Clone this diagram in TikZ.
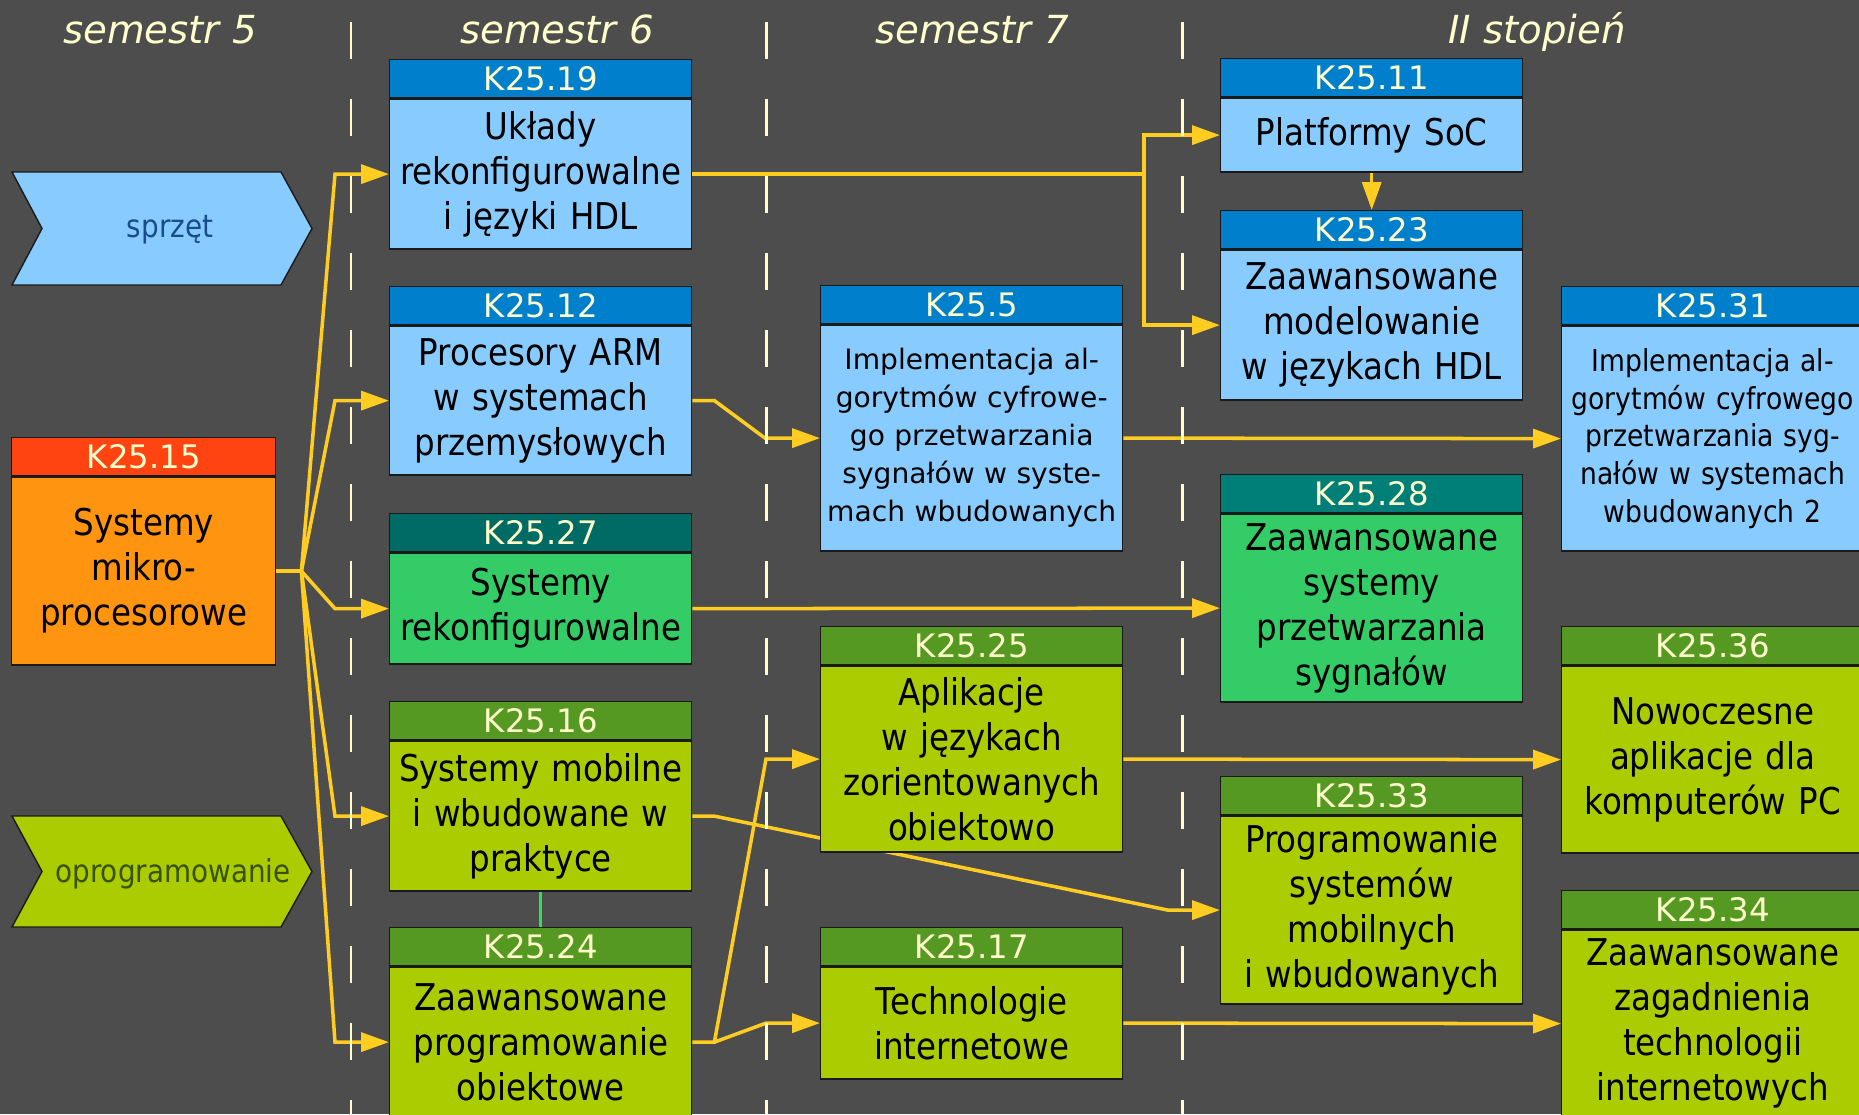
\documentclass[tikz,border=0pt]{standalone}
\usepackage{fontspec}
\setmainfont{DejaVu Sans}[FakeStretch=0.88]
\newfontfamily\widefont{DejaVu Sans}
\usetikzlibrary{positioning,arrows.meta,backgrounds}
\definecolor{bgcol}{HTML}{4D4D4D}
\definecolor{linkcol}{HTML}{FFCC22}
\definecolor{dashcol}{HTML}{FFFFCC}
\definecolor{hdrtext}{HTML}{FFFFCC}
\definecolor{edgecol}{HTML}{1A1A1A}
\definecolor{blueh}{HTML}{0080CC}
\definecolor{blueb}{HTML}{88CCFF}
\definecolor{tealh}{HTML}{007F78}
\definecolor{tealdark}{HTML}{006B64}
\definecolor{tealb}{HTML}{33CC66}
\definecolor{greenh}{HTML}{559922}
\definecolor{greenb}{HTML}{AACC00}
\definecolor{orangeh}{HTML}{FF4411}
\definecolor{orangeb}{HTML}{FF9411}
\definecolor{pairline}{HTML}{33DD55}
\definecolor{hwtext}{HTML}{1A4C8C}
\definecolor{swtext}{HTML}{3A5200}
\begin{document}
\begin{tikzpicture}[every node/.style={inner sep=0pt},
    head node/.style={draw=edgecol, fill=#1, text=hdrtext, anchor=north west, minimum width=3.02cm, minimum height=0.38cm, font=\widefont\fontsize{9.2}{10}\selectfont},
    body node/.style={draw=edgecol, fill=#1, text=black, align=center, text width=2.9cm, inner xsep=0.06cm, font=\fontsize{10.5}{12.8}\selectfont},
    narrow text/.style={font=\widefont\fontsize{8}{10.8}\selectfont},
    dense text/.style={font=\fontsize{8.6}{10.8}\selectfont},
    link/.style={linkcol, line width=1pt, -{Triangle[length=2.8mm,width=1.9mm]}},
    semester/.style={text=hdrtext, anchor=base, font=\widefont\itshape\fontsize{11}{13}\selectfont},
    area/.style={draw=edgecol, line width=0.4pt, fill=#1},
    area text/.style={text=#1, font=\fontsize{9}{11}\selectfont}]

    \useasboundingbox (0,0) rectangle (18.59,-11.14);

    % kolumny
    \node[semester] (t5) at (1.60,-0.43) {semestr 5};
    \node[semester] (t6) at (5.57,-0.43) {semestr 6};
    \node[semester] (t7) at (9.72,-0.43) {semestr 7};
    \node[semester] (t2) at (15.37,-0.43) {II stopień};

    % obszary
    \draw[area=blueb] (0.12,-1.72) -- (2.81,-1.72) -- (3.12,-2.285) -- (2.81,-2.85) -- (0.12,-2.85) -- (0.42,-2.285) -- cycle;
    \node[area text=hwtext] (hw) at (1.70,-2.30) {sprzęt};
    \draw[area=greenb] (0.12,-8.16) -- (2.81,-8.16) -- (3.12,-8.715) -- (2.81,-9.27) -- (0.12,-9.27) -- (0.42,-8.715) -- cycle;
    \node[area text=swtext] (sw) at (1.73,-8.74) {oprogramowanie};

    % semestr 5
    \node[head node=orangeh, minimum width=2.64cm] (k15h) at (0.11,-4.37) {K25.15};
    \node[body node=orangeb, text width=2.52cm, below=0pt of k15h, minimum height=1.88cm] (k15) {Systemy\\mikro-\\procesorowe};

    % semestr 6
    \node[head node=blueh] (k19h) at (3.89,-0.59) {K25.19};
    \node[body node=blueb, below=0pt of k19h, minimum height=1.50cm] (k19) {Układy\\rekonfigurowalne\\i języki HDL};
    \node[head node=blueh] (k12h) at (3.89,-2.86) {K25.12};
    \node[body node=blueb, below=0pt of k12h, minimum height=1.49cm] (k12) {Procesory ARM\\w systemach\\przemysłowych};
    \node[head node=tealdark] (k27h) at (3.89,-5.13) {K25.27};
    \node[body node=tealb, below=0pt of k27h, minimum height=1.11cm] (k27) {Systemy\\rekonfigurowalne};
    \node[head node=greenh] (k16h) at (3.89,-7.01) {K25.16};
    \node[body node=greenb, below=0pt of k16h, minimum height=1.50cm] (k16) {Systemy mobilne\\i wbudowane w\\praktyce};
    \node[head node=greenh] (k24h) at (3.89,-9.27) {K25.24};
    \node[body node=greenb, below=0pt of k24h, minimum height=1.50cm] (k24) {Zaawansowane\\programowanie\\obiektowe};

    % semestr 7
    \node[head node=blueh] (k5h) at (8.20,-2.85) {K25.5};
    \node[body node=blueb, narrow text, below=0pt of k5h, minimum height=2.26cm] (k5) {Implementacja al-\\gorytmów cyfrowe-\\go przetwarzania\\sygnałów w syste-\\mach wbudowanych};
    \node[head node=greenh] (k25h) at (8.20,-6.26) {K25.25};
    \node[body node=greenb, below=0pt of k25h, minimum height=1.86cm] (k25) {Aplikacje\\w językach\\zorientowanych\\obiektowo};
    \node[head node=greenh] (k17h) at (8.20,-9.27) {K25.17};
    \node[body node=greenb, below=0pt of k17h, minimum height=1.12cm] (k17) {Technologie\\internetowe};

    % II stopien
    \node[head node=blueh] (k11h) at (12.20,-0.58) {K25.11};
    \node[body node=blueb, below=0pt of k11h, minimum height=0.74cm] (k11) {Platformy SoC};
    \node[head node=blueh] (k23h) at (12.20,-2.10) {K25.23};
    \node[body node=blueb, below=0pt of k23h, minimum height=1.50cm] (k23) {Zaawansowane\\modelowanie\\w językach HDL};
    \node[head node=tealh] (k28h) at (12.20,-4.74) {K25.28};
    \node[body node=tealb, below=0pt of k28h, minimum height=1.88cm] (k28) {Zaawansowane\\systemy\\przetwarzania\\sygnałów};
    \node[head node=greenh] (k33h) at (12.20,-7.76) {K25.33};
    \node[body node=greenb, below=0pt of k33h, minimum height=1.88cm] (k33) {Programowanie\\systemów\\mobilnych\\i wbudowanych};
    \node[head node=blueh] (k31h) at (15.61,-2.86) {K25.31};
    \node[body node=blueb, dense text, below=0pt of k31h, minimum height=2.25cm] (k31) {Implementacja al-\\gorytmów cyfrowego\\przetwarzania syg-\\nałów w systemach\\wbudowanych 2};
    \node[head node=greenh] (k36h) at (15.61,-6.26) {K25.36};
    \node[body node=greenb, below=0pt of k36h, minimum height=1.87cm] (k36) {Nowoczesne\\aplikacje dla\\komputerów PC};
    \node[head node=greenh] (k34h) at (15.61,-8.90) {K25.34};
    \node[body node=greenb, below=0pt of k34h, minimum height=1.87cm] (k34) {Zaawansowane\\zagadnienia\\technologii\\internetowych};

    \begin{scope}[on background layer]
        \fill[bgcol] (0,0) rectangle (18.59,-11.14);
        % powiazania
        \coordinate (j15) at ([xshift=2.5mm]k15.east);
        \foreach \n in {k19,k12,k27,k16,k24}
            \draw[link] (k15.east) -- (j15) -- ([xshift=-5.4mm]\n.west) -- (\n.west);
        \draw[link] (k19.east) -| ([xshift=-7.6mm]k11.west) -- (k11.west);
        \draw[link] (k19.east) -| ([xshift=-7.6mm]k23.west) -- (k23.west);
        \draw[link] (k11.south) -- (k23h.north);
        \draw[link] (k12.east) -- ++(0.22,0) -- ([xshift=-5.5mm]k5.west) -- (k5.west);
        \draw[link] (k16.east) -- ++(0.22,0) -- ([xshift=-5.2mm]k33.west) -- (k33.west);
        \coordinate (j24) at ([xshift=2.2mm]k24.east);
        \draw[link] (k24.east) -- (j24) -- ([xshift=-5.4mm]k25.west) -- (k25.west);
        \draw[link] (j24) -- ([xshift=-5.4mm]k17.west) -- (k17.west);
        \path[link] (k5.east) edge (k31.west)
                    (k27.east) edge (k28.west)
                    (k25.east) edge (k36.west)
                    (k17.east) edge (k34.west);
        \draw[pairline, line width=1pt] (k16.south) -- (k24h.north);
        % granice semestrow
        \foreach \x in {3.51,7.66,11.82}
            \draw[dashcol, line width=0.85pt, dash pattern=on 3.7mm off 4mm] (\x,-0.22) -- (\x,-11.14);
    \end{scope}
\end{tikzpicture}
\end{document}
